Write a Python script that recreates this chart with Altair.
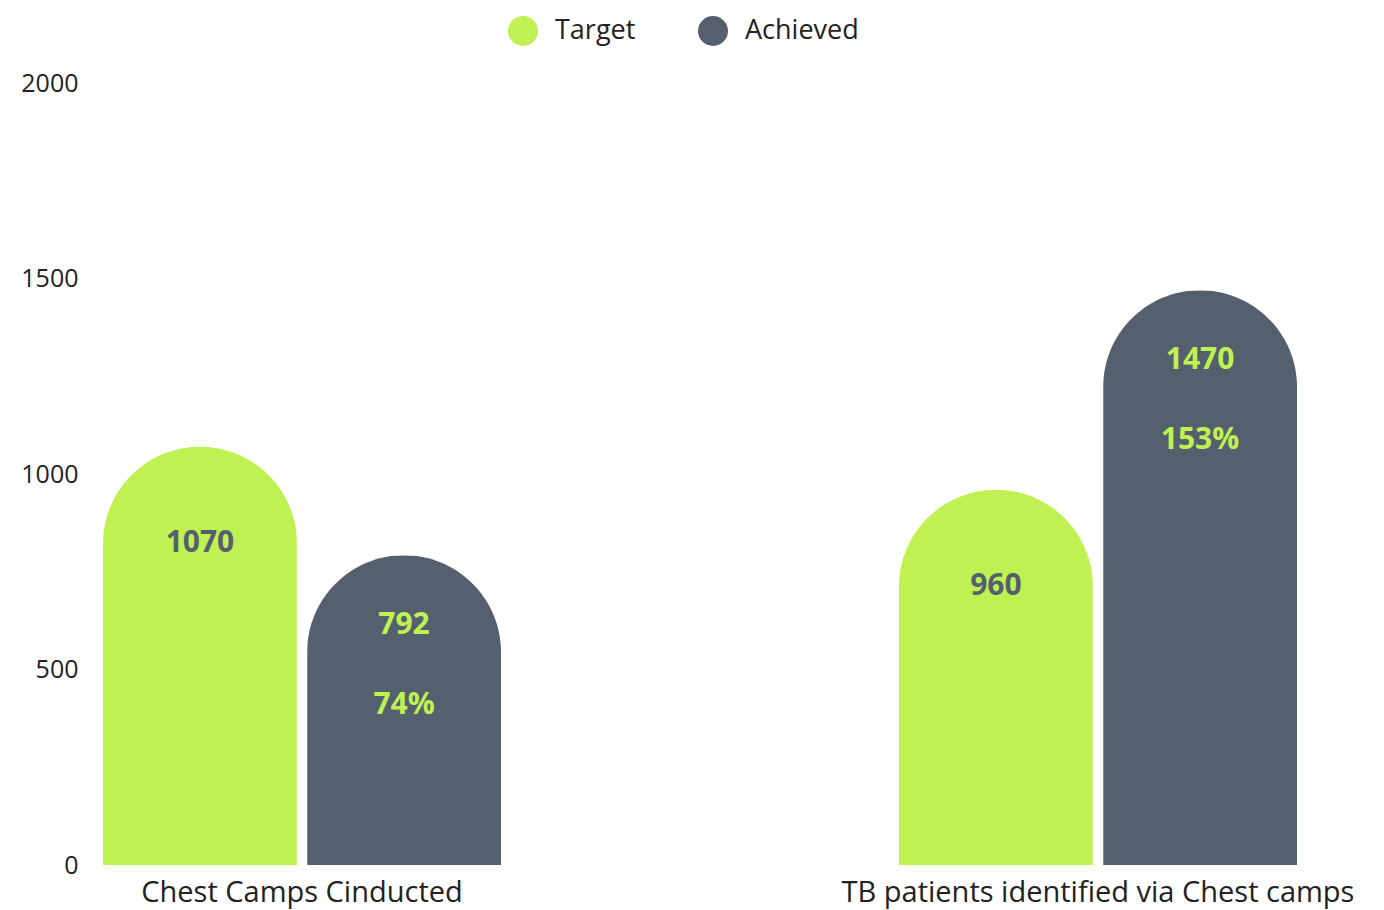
import altair as alt
import pandas as pd

categories = ["Chest Camps Cinducted", "TB patients identified via Chest camps"]
series = ["Target", "Achieved"]
target = [1070, 960]
achieved = [792, 1470]
percent_labels = ["74%", "153%"]

colors = ["#BFF153", "#55606F"]
FONT = "Open Sans"

rows = []
for i, c in enumerate(categories):
    rows.append({"category": c, "series": "Target", "value": target[i], "label": str(target[i]), "pct": ""})
    rows.append({"category": c, "series": "Achieved", "value": achieved[i], "label": str(achieved[i]), "pct": percent_labels[i]})
df = pd.DataFrame(rows)

base = alt.Chart(df).encode(
    x=alt.X(
        "category:N",
        sort=categories,
        scale=alt.Scale(paddingInner=0.5, paddingOuter=0),
        axis=alt.Axis(title=None, labelAngle=0, domain=False, ticks=False,
                      labelFontSize=29, labelPadding=13, labelColor="#222222",
                      labelFont=FONT, labelLimit=700),
    ),
    xOffset=alt.XOffset("series:N", sort=series, scale=alt.Scale(paddingInner=0.05)),
    y=alt.Y(
        "value:Q",
        scale=alt.Scale(domain=[0, 2000]),
        axis=alt.Axis(values=[0, 500, 1000, 1500, 2000], format="d", grid=False, domain=False,
                      ticks=False, title=None, labelFontSize=25, labelPadding=25,
                      labelColor="#222222", labelFont=FONT),
    ),
)

bars = base.mark_bar(cornerRadiusTopLeft=97, cornerRadiusTopRight=97).encode(
    color=alt.Color(
        "series:N",
        sort=series,
        scale=alt.Scale(domain=series, range=colors),
        legend=alt.Legend(
            title=None, orient="none", legendX=405, legendY=-67, direction="horizontal",
            symbolType="circle", symbolSize=900, symbolStrokeWidth=0, symbolOpacity=1,
            labelFontSize=27, labelFont=FONT, labelColor="#222222", labelBaseline="middle",
            columnPadding=62, labelOffset=17, padding=0,
        ),
    )
)

target_labels = base.transform_filter(alt.datum.series == "Target").mark_text(
    dy=96, fontSize=30, fontWeight="bold", font=FONT, color=colors[1], baseline="middle"
).encode(text="label:N")

achieved_labels = base.transform_filter(alt.datum.series == "Achieved").mark_text(
    dy=70, fontSize=30, fontWeight="bold", font=FONT, color=colors[0], baseline="middle"
).encode(text="label:N")

pct_labels = base.transform_filter(alt.datum.series == "Achieved").mark_text(
    dy=150, fontSize=30, fontWeight="bold", font=FONT, color=colors[0], baseline="middle"
).encode(text="pct:N")

chart = (
    alt.layer(bars, target_labels, achieved_labels, pct_labels)
    .properties(width=1194, height=782, padding={"left": 12, "top": 8, "right": 5, "bottom": 5})
    .configure_view(stroke=None)
)

chart.save("out.html", embed_options={"renderer": "svg", "actions": False})
